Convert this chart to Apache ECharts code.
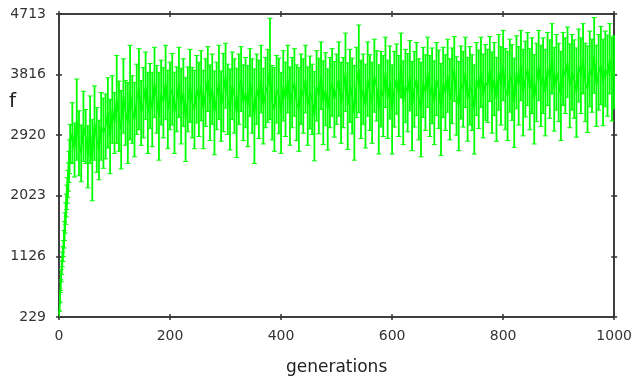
<!DOCTYPE html>
<html>
<head>
<meta charset="utf-8">
<script src="https://cdn.jsdelivr.net/npm/echarts@6/dist/echarts.min.js"></script>
<style>
  html, body { margin: 0; padding: 0; background: #fff; }
  #chart { width: 635px; height: 381px; }
</style>
</head>
<body>
<div id="chart"></div>
<script>
// y tick labels as printed on the original
const yTicks = [229, 1126, 2023, 2920, 3816, 4713]

// generations 0..20, one sample each (the steep start)
const earlyGen = [0, 1, 2, 3, 4, 5, 6, 7, 8, 9, 10, 11, 12, 13, 14, 15, 16, 17, 18, 19, 20]
const earlyMean = [260, 380, 520, 700, 840, 960, 1080, 1160, 1240, 1380, 1500,
  1620, 1760, 1880, 2000, 2100, 2200, 2300, 2450, 2600, 2800]
const earlyErr = [50, 60, 70, 80, 90, 100, 110, 110, 120, 130, 140,
  150, 160, 170, 180, 190, 200, 210, 230, 250, 280]

// from generation 24 on, every 4th generation (24, 28, ... 1000)
const LATE_START = 24
const LATE_STEP = 4
const lateMean = [
  2950, 2700, 3150, 2800, 2650, 3050, 2900, 2600, 3000, 2550,
  3100, 2850, 2700, 3050, 2950, 3050, 3250, 2900, 3300, 3100,
  3450, 3200, 3000, 3500, 3250, 3100, 3550, 3300, 3150, 3450,
  3600, 3250, 3400, 3650, 3250, 3500, 3300, 3700, 3450, 3200,
  3550, 3400, 3700, 3300, 3500, 3600, 3250, 3450, 3700, 3350,
  3550, 3150, 3450, 3650, 3400, 3300, 3600, 3450, 3650, 3300,
  3550, 3750, 3400, 3600, 3250, 3500, 3700, 3350, 3550, 3800,
  3450, 3300, 3650, 3500, 3250, 3600, 3750, 3400, 3550, 3350,
  3700, 3500, 3200, 3600, 3450, 3750, 3350, 3550, 3650, 3900,
  3400, 3300, 3600, 3500, 3250, 3650, 3450, 3750, 3350, 3550,
  3700, 3400, 3300, 3600, 3500, 3750, 3350, 3550, 3450, 3200,
  3650, 3500, 3800, 3400, 3600, 3300, 3550, 3700, 3450, 3600,
  3750, 3400, 3550, 3850, 3350, 3650, 3500, 3250, 3700, 3900,
  3450, 3600, 3350, 3750, 3550, 3400, 3800, 3650, 3300, 3600,
  3500, 3850, 3450, 3700, 3300, 3600, 3750, 3500, 3950, 3400,
  3650, 3550, 3800, 3350, 3600, 3750, 3450, 3300, 3700, 3550,
  3850, 3500, 3650, 3400, 3750, 3600, 3300, 3700, 3550, 3800,
  3450, 3650, 3900, 3500, 3350, 3700, 3600, 3850, 3450, 3650,
  3550, 3300, 3750, 3600, 3850, 3500, 3700, 3650, 3900, 3550,
  3750, 3450, 3850, 3650, 3950, 3600, 3500, 3800, 3700, 3400,
  3850, 3650, 3950, 3550, 3750, 3900, 3600, 3800, 3450, 3700,
  3950, 3650, 3800, 3550, 3900, 3750, 4050, 3600, 3850, 3700,
  3500, 3900, 3800, 4000, 3650, 3850, 3750, 3550, 3950, 3800,
  4050, 3700, 3600, 3900, 3800, 4100, 3650, 3850, 3950, 3700,
  3900, 3800, 4050, 3750, 3850,
]
const lateErr = [
  450, 400, 600, 480, 420, 520, 400, 460, 500, 600,
  550, 480, 440, 500, 520, 480, 520, 550, 500, 450,
  650, 520, 580, 550, 480, 600, 700, 500, 550, 520,
  600, 480, 520, 500, 600, 480, 550, 520, 500, 650,
  480, 520, 550, 580, 500, 530, 600, 480, 520, 560,
  500, 620, 480, 540, 520, 580, 500, 550, 520, 580,
  500, 480, 560, 520, 620, 500, 550, 520, 580, 480,
  520, 600, 500, 550, 660, 520, 480, 560, 520, 600,
  500, 550, 700, 520, 580, 500, 560, 520, 540, 750,
  550, 620, 500, 560, 600, 520, 550, 500, 580, 520,
  500, 560, 620, 520, 550, 500, 580, 540, 520, 660,
  520, 560, 500, 620, 540, 600, 520, 500, 560, 520,
  550, 600, 520, 580, 640, 540, 560, 700, 520, 650,
  580, 520, 620, 550, 560, 600, 540, 520, 660, 560,
  600, 520, 580, 540, 660, 560, 520, 600, 480, 620,
  540, 580, 520, 660, 560, 540, 600, 700, 520, 560,
  520, 600, 560, 620, 540, 580, 680, 520, 560, 540,
  600, 560, 480, 580, 660, 540, 560, 520, 620, 580,
  560, 660, 540, 580, 520, 620, 560, 540, 480, 600,
  540, 620, 560, 580, 520, 600, 660, 540, 560, 660,
  540, 580, 520, 640, 560, 540, 600, 560, 660, 580,
  520, 600, 560, 640, 540, 580, 520, 620, 560, 580,
  660, 540, 560, 520, 620, 560, 580, 660, 540, 560,
  520, 580, 640, 560, 540, 560, 600, 560, 580, 640,
  560, 600, 520, 620, 540,
]

const GREEN = '#00ff00'
const AXIS = '#333'
const FONT = 'DejaVu Sans'

const gens = earlyGen.concat(lateMean.map((_, i) => LATE_START + i * LATE_STEP))
const means = earlyMean.concat(lateMean)
const errs = earlyErr.concat(lateErr)

const linePoints = gens.map((g, i) => [g, means[i]])
const barPoints = gens.map((g, i) => [g, means[i] - errs[i], means[i] + errs[i]])

function errorBar(params, api) {
  const x = api.value(0)
  const top = api.coord([x, api.value(2)])
  const bot = api.coord([x, api.value(1)])
  const half = 2.5
  const style = { stroke: GREEN, lineWidth: 1.8 }
  const cap = { stroke: GREEN, lineWidth: 1 }
  return {
    type: 'group',
    children: [
      { type: 'line', shape: { x1: top[0], y1: top[1], x2: bot[0], y2: bot[1] }, style },
      { type: 'line', shape: { x1: top[0] - half, y1: top[1], x2: top[0] + half, y2: top[1] }, style: cap },
      { type: 'line', shape: { x1: bot[0] - half, y1: bot[1], x2: bot[0] + half, y2: bot[1] }, style: cap },
    ],
  }
}

const plain = v => String(Math.round(v))

// two axes per side: one with outward ticks, one with inward, so ticks look like small crosses
function xAxisFor(position, inside, labels) {
  return {
    type: 'value',
    position,
    min: 0,
    max: 1000,
    interval: 200,
    axisLine: { show: true, onZero: false, lineStyle: { color: AXIS, width: 1.5 } },
    axisTick: { show: true, inside, length: 3, lineStyle: { color: AXIS, width: 1.5 } },
    axisLabel: labels
      ? { show: true, color: '#333', fontFamily: FONT, fontSize: 14, margin: 12, formatter: plain }
      : { show: false },
    splitLine: { show: false },
    name: labels ? 'generations' : '',
    nameLocation: 'middle',
    nameGap: 42,
    nameTextStyle: { color: '#222', fontFamily: FONT, fontSize: 17 },
  }
}

function yAxisFor(position, inside, labels) {
  return {
    type: 'value',
    position,
    min: yTicks[0],
    max: yTicks[yTicks.length - 1],
    axisLine: { show: true, onZero: false, lineStyle: { color: AXIS, width: 1.5 } },
    axisTick: { show: true, inside, length: 3, customValues: yTicks, lineStyle: { color: AXIS, width: 1.5 } },
    axisLabel: labels
      ? { show: true, color: '#333', fontFamily: FONT, fontSize: 14, margin: 13, customValues: yTicks, formatter: plain }
      : { show: false, customValues: yTicks },
    splitLine: { show: false },
  }
}

const chart = echarts.init(document.getElementById('chart'), null, { renderer: 'canvas' })
chart.setOption({
  backgroundColor: '#fff',
  animation: false,
  grid: { left: 59, right: 20, top: 14, bottom: 60 },
  graphic: [
    {
      type: 'text',
      left: 9,
      top: 92,
      style: { text: 'f', fill: '#222', font: '20px "DejaVu Sans"' },
    },
  ],
  xAxis: [
    xAxisFor('bottom', false, true),
    xAxisFor('bottom', true, false),
    xAxisFor('top', false, false),
    xAxisFor('top', true, false),
  ],
  yAxis: [
    yAxisFor('left', false, true),
    yAxisFor('left', true, false),
    yAxisFor('right', false, false),
    yAxisFor('right', true, false),
  ],
  series: [
    {
      type: 'custom',
      renderItem: errorBar,
      data: barPoints,
      encode: { x: 0, y: [1, 2] },
      clip: true,
      silent: true,
      z: 2,
    },
    {
      type: 'line',
      data: linePoints,
      showSymbol: false,
      symbol: 'none',
      lineStyle: { color: GREEN, width: 1.5 },
      clip: true,
      silent: true,
      z: 3,
    },
  ],
})
</script>
</body>
</html>
